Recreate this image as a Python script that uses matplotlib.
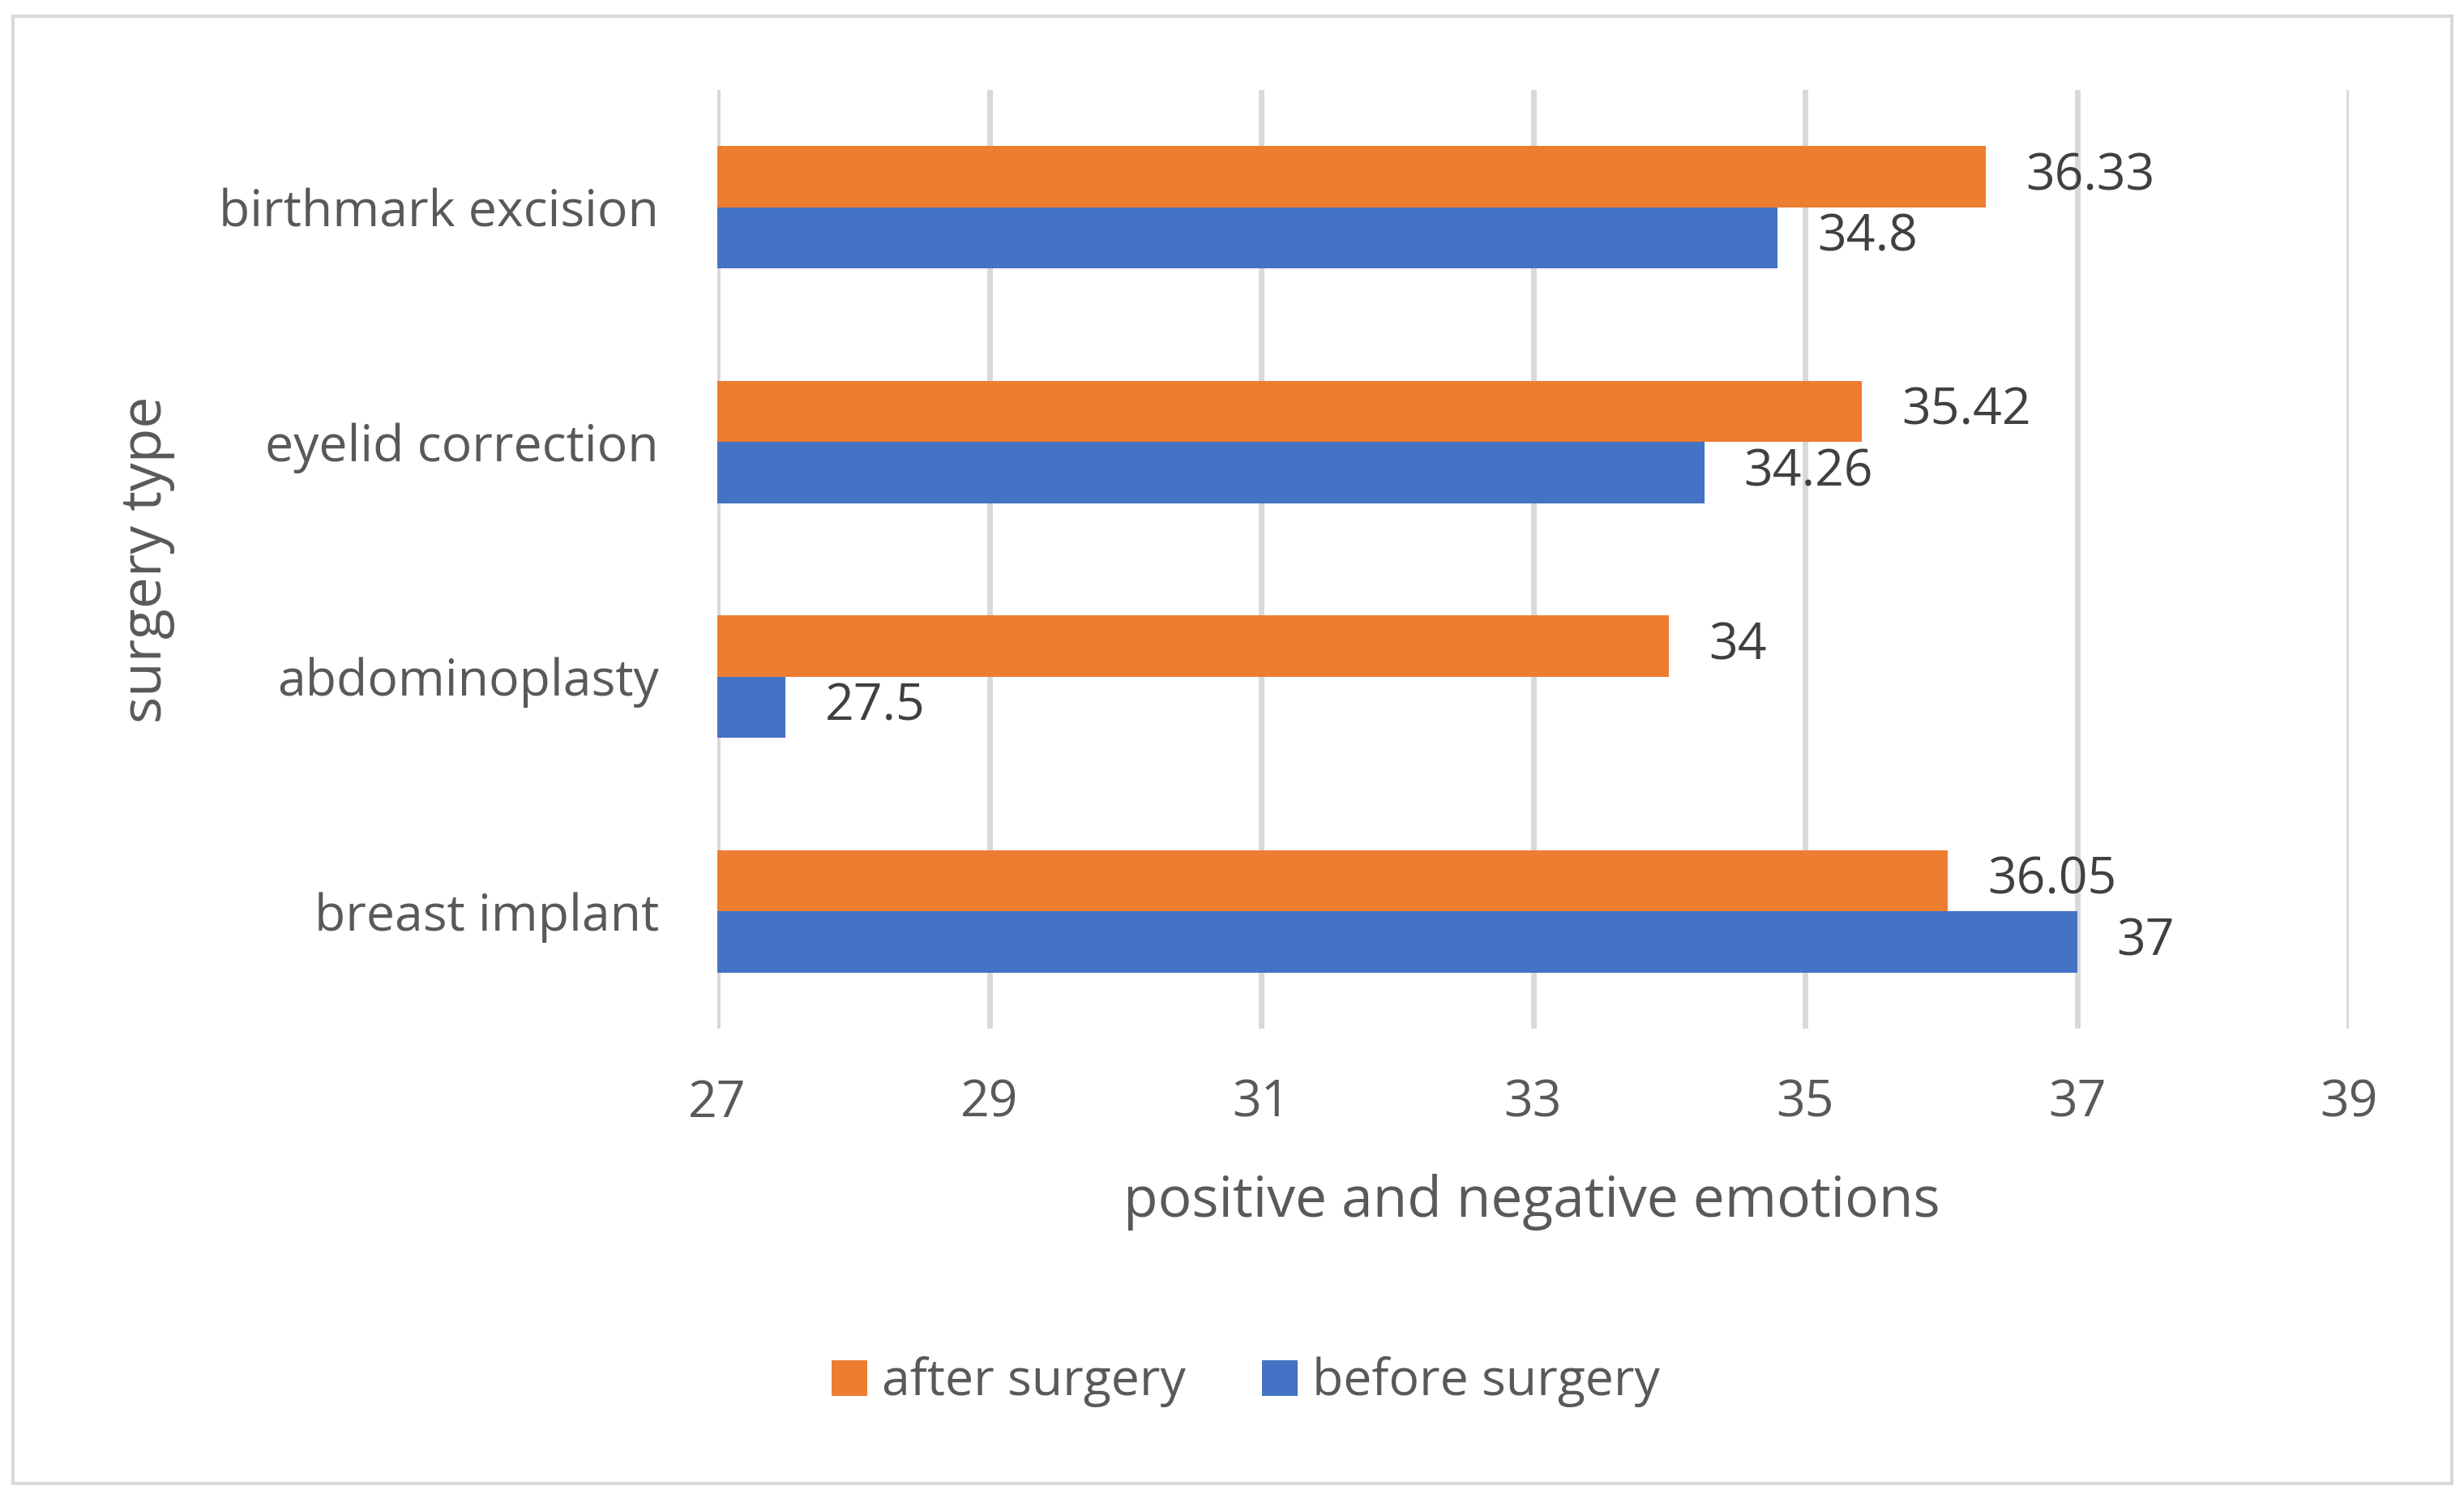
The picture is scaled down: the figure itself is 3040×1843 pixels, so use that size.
import matplotlib
matplotlib.use("Agg")
import matplotlib.pyplot as plt
import numpy as np
from matplotlib.patches import Rectangle

categories = ["breast implant", "abdominoplasty", "eyelid correction", "birthmark excision"]
after_vals = [36.05, 34, 35.42, 36.33]
before_vals = [37, 27.5, 34.26, 34.8]
after_labels = ["36.05", "34", "35.42", "36.33"]
before_labels = ["37", "27.5", "34.26", "34.8"]
xticks = [27, 29, 31, 33, 35, 37, 39]

plt.rcParams['font.family'] = ['Open Sans', 'DejaVu Sans']
TXT = '#595959'
ORANGE = '#ED7D31'
BLUE = '#4472C4'

W, H = 3040, 1843
dpi = 200
fig = plt.figure(figsize=(W / dpi, H / dpi), dpi=dpi)
fig.patches.append(Rectangle((16 / W, 1 - 1830 / H), (3025 - 16) / W, (1830 - 20) / H,
                             transform=fig.transFigure, fill=False, edgecolor='#D9D9D9', lw=1.5))

x0, x1 = 885, 2898
y0, y1 = 111, 1269
ax = fig.add_axes([x0 / W, 1 - y1 / H, (x1 - x0) / W, (y1 - y0) / H])

y = np.arange(len(categories))
h = 0.26
ax.barh(y + h / 2, [v - 27 for v in after_vals], left=27, height=h, color=ORANGE, label='after surgery', zorder=3)
ax.barh(y - h / 2, [v - 27 for v in before_vals], left=27, height=h, color=BLUE, label='before surgery', zorder=3)

fs = 22.5
for i in range(len(categories)):
    ax.text(after_vals[i] + 0.29, y[i] + h / 2, after_labels[i], va='center', ha='left', fontsize=fs, color='#404040')
    ax.text(before_vals[i] + 0.29, y[i] - h / 2, before_labels[i], va='center', ha='left', fontsize=fs, color='#404040')

ax.set_xlim(27, 39)
ax.set_ylim(-0.5, 3.5)
ax.set_xticks(xticks)
ax.set_xticklabels([str(t) for t in xticks])
ax.set_yticks(y)
ax.set_yticklabels(categories)
ax.tick_params(axis='both', length=0, labelsize=fs, colors=TXT)
ax.tick_params(axis='x', pad=22)
ax.tick_params(axis='y', pad=26)
ax.grid(axis='x', color='#D9D9D9', lw=2.5, zorder=0)
for s in ax.spines.values():
    s.set_visible(False)

fig.text(1890 / W, 1 - 1483 / H, 'positive and negative emotions', ha='center', va='center', fontsize=25, color=TXT)
fig.text(181 / W, 1 - 690 / H, 'surgery type', ha='center', va='center', rotation=90, fontsize=25, color=TXT)

handles, labels = ax.get_legend_handles_labels()
leg = fig.legend(handles, labels, loc='center', bbox_to_anchor=(1537 / W, 1 - 1705 / H), ncol=2, frameon=False,
                 fontsize=22.5, handlelength=0.7, handleheight=0.7, handletextpad=0.3, columnspacing=1.5)
for t in leg.get_texts():
    t.set_color(TXT)

fig.savefig('out.png', dpi=dpi, facecolor='white')
